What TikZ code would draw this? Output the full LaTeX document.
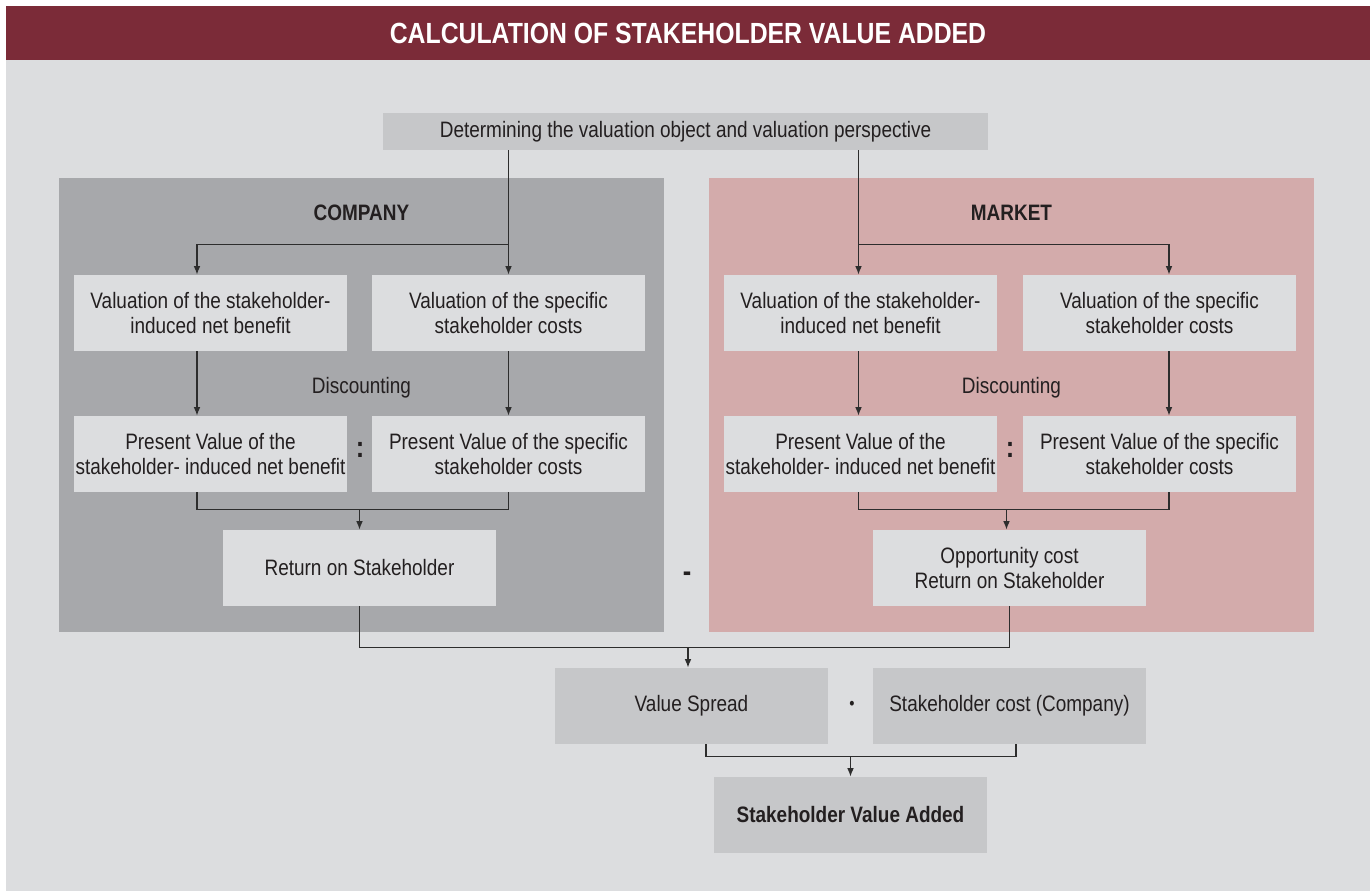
\documentclass[tikz,border=0pt]{standalone}
\usepackage{fontspec}
\setmainfont{Liberation Sans}[FakeStretch=0.85]
\definecolor{csttitle}{RGB}{123,43,56}
\definecolor{cstback}{RGB}{220,221,223}
\definecolor{cstcomp}{RGB}{167,168,171}
\definecolor{cstmark}{RGB}{211,171,171}
\definecolor{cstgray}{RGB}{198,199,201}
\definecolor{csttext}{RGB}{35,31,32}
\definecolor{cstdraw}{RGB}{45,45,45}
\usetikzlibrary{
	arrows.meta,
	positioning,
	calc
}
\tikzset{
  % arrow
	cstra/.style      ={-{Latex[length=4.8pt,width=3.8pt]}, line width=0.75pt, draw=cstdraw}, % down arrow
	cstlink/.style    ={line width=0.75pt, draw=cstdraw}, % plain link
  % text
	csttxt/.style     ={text=csttext, font=\fontsize{12.7}{14.2}\selectfont},
	csthead/.style    ={text=csttext, font=\fontsize{12.7}{14.2}\selectfont\bfseries},
  % node
	cstnode/.style    ={csttxt, fill=cstback, minimum width=5.46cm, minimum height=1.52cm, inner sep=0pt, align=center},
	cstnodeg/.style   ={cstnode, fill=cstgray}
}
\begin{document}
\begin{tikzpicture}[x=0.02cm, y=-0.02cm]
	\useasboundingbox (0,0) rectangle (1370,891);
	\fill[white] (0,0) rectangle (1370,891);
	\fill[cstback] (6,60) rectangle (1370,891);
	\fill[csttitle] (6,6) rectangle (1370,60);
	\node[text=white, font=\fontsize{16.6}{18}\selectfont\bfseries] (title) at (688,33) {CALCULATION OF STAKEHOLDER VALUE ADDED};
	\node[cstnodeg, minimum width=12.1cm, minimum height=0.74cm] (top) at (685.5,131.5) {Determining the valuation object and valuation perspective};
	% company
	\fill[cstcomp] (59,178) rectangle (664,632);
	\node[csthead] (chead) at (361.5,213) {COMPANY};
	\node[cstnode] (cvl) at (210.5,313) {Valuation of the stakeholder-\\induced net benefit};
	\node[cstnode] (cvr) at (508.5,313) {Valuation of the specific\\stakeholder costs};
	\node[csttxt] (cdisc) at (361.5,388) {Discounting};
	\node[cstnode] (cpl) at (210.5,454) {Present Value of the\\stakeholder- induced net benefit};
	\node[cstnode] (cpr) at (508.5,454) {Present Value of the specific\\stakeholder costs};
	\node[csthead, font=\fontsize{17}{18}\selectfont\bfseries] (cdiv) at (360,450) {:};
	\node[cstnode] (cret) at (359.5,568) {Return on Stakeholder};
	% market
	\fill[cstmark] (709,178) rectangle (1314,632);
	\node[csthead] (mhead) at (1011.5,213) {MARKET};
	\node[cstnode] (mvl) at (860.5,313) {Valuation of the stakeholder-\\induced net benefit};
	\node[cstnode] (mvr) at (1159.5,313) {Valuation of the specific\\stakeholder costs};
	\node[csttxt] (mdisc) at (1011.5,388) {Discounting};
	\node[cstnode] (mpl) at (860.5,454) {Present Value of the\\stakeholder- induced net benefit};
	\node[cstnode] (mpr) at (1159.5,454) {Present Value of the specific\\stakeholder costs};
	\node[csthead, font=\fontsize{17}{18}\selectfont\bfseries] (mdiv) at (1010,450) {:};
	\node[cstnode] (mopp) at (1009.5,568) {Opportunity cost\\Return on Stakeholder};
	% result
	\node[csthead, font=\fontsize{17}{18}\selectfont\bfseries] (minus) at (687,577) {-};
	\node[cstnodeg] (vs) at (691.5,706) {Value Spread};
	\node[cstnodeg] (sc) at (1009.5,706) {Stakeholder cost (Company)};
	\node[csttxt, font=\fontsize{10}{12}\selectfont] (times) at (852,705) {•};
	\node[cstnodeg, csthead] (sva) at (850.5,815) {Stakeholder Value Added};
	% company links
	\coordinate (cfork) at ($(cvl.north)+(-13.5,-30)$);
	\draw[cstra] (top.south -| cvr) -- (cvr.north);
	\draw[cstra] (top.south -| cvr) |- (cfork) -- ($(cvl.north)+(-13.5,0)$);
	\draw[cstra] ($(cvl.south)+(-13.5,0)$) -- ($(cpl.north)+(-13.5,0)$);
	\draw[cstra] (cvr) -- (cpr);
	\coordinate (cjoin) at ($(cret.north)+(0,-20)$);
	\draw[cstlink] ($(cpl.south)+(-13.5,0)$) |- (cjoin) -| (cpr.south);
	\draw[cstra] (cjoin) -- (cret.north);
	% market links
	\coordinate (mfork) at ($(mvl.north)+(-2,-30)$);
	\draw[cstra] (top.south -| mfork) -- ($(mvl.north)+(-2,0)$);
	\draw[cstra] (mfork) -| ($(mvr.north)+(9.5,0)$);
	\draw[cstra] ($(mvl.south)+(-2,0)$) -- ($(mpl.north)+(-2,0)$);
	\draw[cstra] ($(mvr.south)+(9.5,0)$) -- ($(mpr.north)+(9.5,0)$);
	\coordinate (mjoin) at ($(mopp.north)+(-3,-20)$);
	\draw[cstlink] ($(mpl.south)+(-2,0)$) |- (mjoin) -| ($(mpr.south)+(9.5,0)$);
	\draw[cstra] (mjoin) -- (mjoin |- mopp.north);
	% result links
	\coordinate (sjoin) at ($(vs.north)+(-3.5,-20)$);
	\draw[cstlink] (cret.south) |- (sjoin) -| (mopp.south);
	\draw[cstra] (sjoin) -- (sjoin |- vs.north);
	\coordinate (fjoin) at ($(sva.north)+(0,-20)$);
	\draw[cstlink] ($(vs.south)+(14.5,0)$) |- (fjoin) -| ($(sc.south)+(6.5,0)$);
	\draw[cstra] (fjoin) -- (sva.north);
\end{tikzpicture}
\end{document}
